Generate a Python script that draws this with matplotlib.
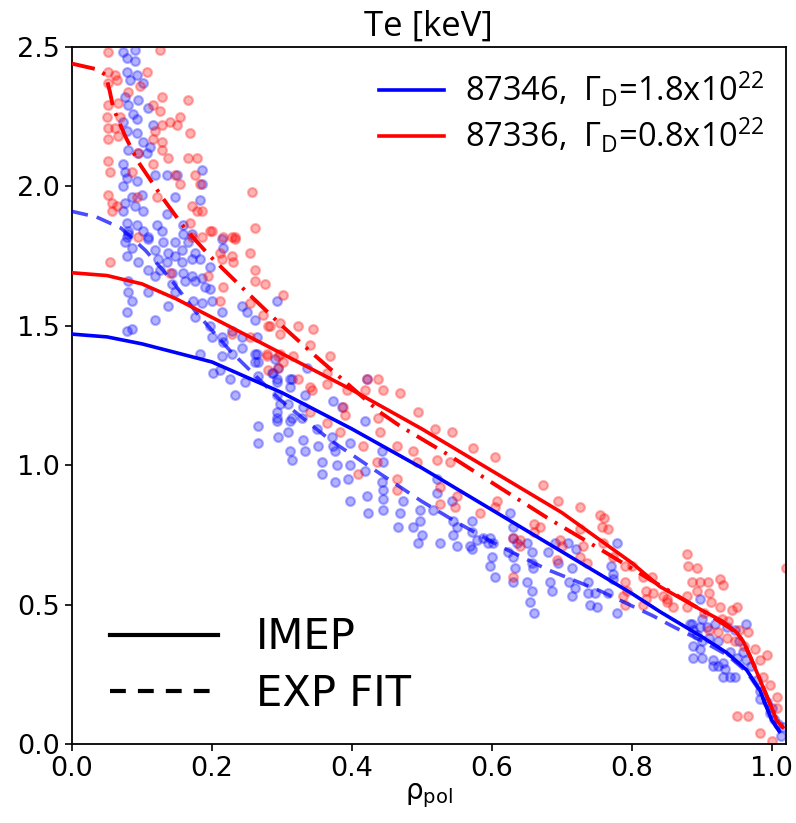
import numpy as np
import matplotlib
matplotlib.use("Agg")
import matplotlib.pyplot as plt
from matplotlib.lines import Line2D

plt.rcParams['mathtext.fontset'] = 'custom'
plt.rcParams['mathtext.rm'] = 'Open Sans'
plt.rcParams['mathtext.it'] = 'Open Sans:italic'

# ---- scatter measurements (rho_pol, Te keV) ----
blue_pts = [
    (0.073, 2.48), (0.090, 2.49), (0.079, 2.46), (0.090, 2.45), (0.079, 2.41), (0.093, 2.40), (0.083, 2.38),
    (0.101, 2.37), (0.076, 2.32), (0.094, 2.31), (0.080, 2.29), (0.109, 2.28), (0.087, 2.26), (0.093, 2.24),
    (0.116, 2.22), (0.073, 2.23), (0.079, 2.20), (0.093, 2.19), (0.101, 2.16), (0.111, 2.14), (0.080, 2.13),
    (0.094, 2.12), (0.107, 2.12), (0.073, 2.08), (0.076, 2.05), (0.079, 2.03), (0.093, 2.02), (0.119, 2.04),
    (0.136, 2.04), (0.150, 2.04), (0.186, 2.06), (0.186, 2.01), (0.073, 2.00), (0.086, 1.96), (0.100, 1.97),
    (0.147, 1.96), (0.076, 1.94), (0.090, 1.93), (0.073, 1.91), (0.101, 1.91), (0.136, 1.90), (0.183, 1.95),
    (0.079, 1.87), (0.093, 1.86), (0.121, 1.86), (0.159, 1.86), (0.080, 1.84), (0.101, 1.84), (0.129, 1.84),
    (0.159, 1.83), (0.171, 1.83), (0.079, 1.82), (0.109, 1.82),
    (0.080, 1.83), (0.076, 1.80), (0.086, 1.78), (0.079, 1.75), (0.094, 1.73), (0.109, 1.81), (0.119, 1.77),
    (0.130, 1.80), (0.137, 1.76), (0.147, 1.80), (0.157, 1.77), (0.166, 1.80), (0.176, 1.76), (0.123, 1.74),
    (0.136, 1.73), (0.147, 1.75), (0.157, 1.73), (0.171, 1.74), (0.183, 1.74), (0.214, 1.81), (0.216, 1.78),
    (0.109, 1.70), (0.119, 1.68), (0.126, 1.70), (0.143, 1.69), (0.159, 1.69), (0.171, 1.68), (0.186, 1.67),
    (0.197, 1.71), (0.080, 1.66), (0.080, 1.62), (0.086, 1.59), (0.109, 1.62), (0.143, 1.65), (0.147, 1.62),
    (0.161, 1.66), (0.176, 1.66), (0.190, 1.64), (0.197, 1.63), (0.200, 1.59), (0.079, 1.55), (0.119, 1.52),
    (0.137, 1.57), (0.173, 1.59), (0.186, 1.58), (0.214, 1.55), (0.176, 1.53), (0.086, 1.49), (0.079, 1.48),
    (0.197, 1.50), (0.200, 1.46), (0.214, 1.46), (0.216, 1.44), (0.229, 1.48), (0.243, 1.46), (0.250, 1.55),
    (0.261, 1.52), (0.243, 1.57), (0.293, 1.59), (0.183, 1.40), (0.214, 1.39), (0.229, 1.40), (0.243, 1.42),
    (0.261, 1.40), (0.266, 1.37), (0.201, 1.33), (0.211, 1.34), (0.226, 1.31), (0.247, 1.30), (0.233, 1.25),
    (0.266, 1.32), (0.286, 1.33), (0.293, 1.30), (0.293, 1.25), (0.297, 1.22), (0.293, 1.19), (0.309, 1.22),
    (0.293, 1.16), (0.266, 1.14), (0.314, 1.17), (0.314, 1.31),
    (0.264, 1.46), (0.264, 1.40), (0.261, 1.37), (0.290, 1.38), (0.294, 1.35), (0.287, 1.33), (0.293, 1.31),
    (0.311, 1.31), (0.311, 1.28), (0.333, 1.25), (0.336, 1.35), (0.293, 1.17), (0.266, 1.08), (0.294, 1.10),
    (0.309, 1.12), (0.311, 1.16), (0.329, 1.17), (0.330, 1.21), (0.330, 1.09), (0.350, 1.13), (0.351, 1.07),
    (0.333, 1.05), (0.311, 1.05), (0.314, 1.02), (0.357, 1.01), (0.357, 0.97), (0.371, 1.10), (0.373, 1.07),
    (0.376, 1.05), (0.373, 1.23), (0.386, 1.21), (0.397, 1.08), (0.421, 1.31), (0.419, 1.16), (0.379, 1.00),
    (0.397, 1.00), (0.376, 0.94), (0.394, 0.95), (0.397, 0.87), (0.421, 0.89), (0.419, 0.98), (0.443, 1.05),
    (0.444, 1.01), (0.443, 0.94), (0.444, 0.91), (0.423, 0.83), (0.444, 0.84), (0.473, 0.87), (0.469, 0.83),
    (0.444, 0.88), (0.466, 0.78), (0.487, 0.78), (0.500, 0.75), (0.494, 0.72), (0.497, 0.84), (0.497, 0.80),
    (0.516, 0.84), (0.521, 0.90), (0.521, 0.95), (0.543, 0.87), (0.544, 0.80), (0.550, 0.78), (0.544, 0.75),
    (0.526, 0.72), (0.571, 0.80), (0.571, 0.76), (0.579, 0.73), (0.571, 0.70), (0.587, 0.74), (0.594, 0.72),
    (0.600, 0.67), (0.550, 0.71), (0.569, 0.71),
    (0.597, 0.74), (0.601, 0.72), (0.597, 0.64), (0.604, 0.60), (0.626, 0.83), (0.630, 0.78), (0.630, 0.74),
    (0.636, 0.72), (0.623, 0.69), (0.630, 0.67), (0.633, 0.63), (0.630, 0.58), (0.650, 0.72), (0.657, 0.69),
    (0.657, 0.65), (0.659, 0.63), (0.651, 0.58), (0.657, 0.55), (0.654, 0.51), (0.661, 0.47), (0.686, 0.55),
    (0.683, 0.58), (0.690, 0.72), (0.680, 0.69), (0.694, 0.65), (0.709, 0.72), (0.721, 0.70), (0.714, 0.63),
    (0.711, 0.58), (0.719, 0.56), (0.714, 0.53), (0.737, 0.58), (0.737, 0.54), (0.747, 0.54), (0.740, 0.50),
    (0.750, 0.49), (0.771, 0.64), (0.773, 0.61), (0.773, 0.59), (0.779, 0.72), (0.766, 0.54), (0.779, 0.47),
    (0.883, 0.43), (0.887, 0.41),
    (0.897, 0.52), (0.886, 0.43), (0.901, 0.45), (0.907, 0.42), (0.919, 0.43), (0.936, 0.42), (0.947, 0.41),
    (0.964, 0.43), (0.893, 0.39), (0.901, 0.37), (0.911, 0.38), (0.923, 0.37), (0.887, 0.35), (0.897, 0.34),
    (0.887, 0.31), (0.901, 0.31), (0.916, 0.30), (0.916, 0.28), (0.923, 0.28), (0.930, 0.29), (0.933, 0.27),
    (0.940, 0.33), (0.950, 0.31), (0.959, 0.33), (0.964, 0.30), (0.971, 0.28), (0.930, 0.24), (0.940, 0.24),
    (0.947, 0.24), (0.979, 0.23), (0.983, 0.19), (0.983, 0.16), (0.993, 0.15), (1.001, 0.13), (0.997, 0.11),
    (1.004, 0.09), (1.009, 0.07), (1.016, 0.06), (1.014, 0.03), (0.954, 0.37), (0.897, 0.42),
]

red_pts = [
    (0.051, 2.48), (0.126, 2.49), (0.051, 2.41), (0.061, 2.40), (0.051, 2.37), (0.064, 2.38), (0.107, 2.41),
    (0.080, 2.34), (0.097, 2.36), (0.129, 2.32), (0.166, 2.31), (0.051, 2.29), (0.066, 2.30), (0.116, 2.29),
    (0.126, 2.27), (0.050, 2.25), (0.069, 2.25), (0.140, 2.23), (0.154, 2.25), (0.129, 2.22), (0.150, 2.22),
    (0.051, 2.21), (0.061, 2.21), (0.119, 2.20), (0.169, 2.19), (0.051, 2.17), (0.066, 2.18), (0.116, 2.17),
    (0.129, 2.16), (0.129, 2.13), (0.094, 2.12), (0.137, 2.10), (0.166, 2.10), (0.179, 2.10), (0.116, 2.08),
    (0.051, 2.09), (0.054, 2.05), (0.086, 2.05), (0.176, 2.04), (0.183, 2.01), (0.147, 2.04), (0.154, 2.01),
    (0.257, 1.98), (0.051, 1.97), (0.057, 1.94), (0.064, 1.93), (0.057, 1.91), (0.093, 1.96), (0.121, 1.96),
    (0.171, 1.93), (0.179, 1.91), (0.186, 1.91), (0.169, 1.87), (0.200, 1.84), (0.216, 1.82), (0.261, 1.85),
    (0.233, 1.82),
    (0.054, 1.73), (0.094, 1.82), (0.171, 1.82), (0.197, 1.84), (0.186, 1.82), (0.211, 1.76), (0.214, 1.74),
    (0.229, 1.82), (0.233, 1.81), (0.229, 1.75), (0.230, 1.73), (0.254, 1.76), (0.261, 1.70), (0.194, 1.68),
    (0.216, 1.64), (0.261, 1.66), (0.276, 1.65), (0.301, 1.61), (0.211, 1.59), (0.254, 1.58), (0.280, 1.50),
    (0.297, 1.47), (0.254, 1.46), (0.229, 1.47), (0.279, 1.39), (0.294, 1.39), (0.294, 1.35), (0.280, 1.34),
    (0.140, 1.69),
    (0.273, 1.54), (0.283, 1.50), (0.297, 1.51), (0.323, 1.50), (0.344, 1.49), (0.340, 1.43), (0.369, 1.39),
    (0.279, 1.40), (0.297, 1.40), (0.301, 1.37), (0.316, 1.39), (0.323, 1.31), (0.364, 1.33), (0.340, 1.28),
    (0.343, 1.27), (0.364, 1.29), (0.421, 1.31), (0.437, 1.31), (0.444, 1.27), (0.469, 1.26), (0.419, 1.27),
    (0.393, 1.27), (0.387, 1.21), (0.390, 1.18), (0.437, 1.17), (0.494, 1.19), (0.519, 1.13), (0.543, 1.12),
    (0.573, 1.06), (0.604, 1.03), (0.364, 1.15), (0.340, 1.19), (0.383, 1.12), (0.440, 1.12), (0.416, 1.07),
    (0.464, 1.07), (0.487, 1.05), (0.493, 1.01), (0.521, 1.02), (0.540, 1.01), (0.436, 1.01), (0.409, 0.97),
    (0.464, 0.95), (0.464, 0.91), (0.526, 0.92), (0.550, 0.89), (0.526, 0.86), (0.547, 0.85), (0.583, 0.83),
    (0.607, 0.87),
    (0.673, 0.93), (0.694, 0.87), (0.726, 0.85), (0.604, 0.85), (0.754, 0.82), (0.761, 0.81), (0.757, 0.78),
    (0.766, 0.77), (0.661, 0.79), (0.669, 0.78), (0.661, 0.76), (0.630, 0.74), (0.640, 0.73), (0.640, 0.71),
    (0.697, 0.73), (0.701, 0.71), (0.726, 0.77), (0.730, 0.71), (0.759, 0.72), (0.726, 0.67), (0.736, 0.65),
    (0.693, 0.66), (0.773, 0.67), (0.790, 0.64), (0.800, 0.64), (0.790, 0.58), (0.816, 0.60), (0.829, 0.60),
    (0.793, 0.55), (0.821, 0.55), (0.830, 0.54), (0.821, 0.52), (0.844, 0.53), (0.851, 0.51), (0.859, 0.49),
    (0.879, 0.68), (0.880, 0.64), (0.886, 0.58), (0.879, 0.53), (0.630, 0.60), (0.790, 0.50), (0.816, 0.50),
    (0.787, 0.53),
    (0.894, 0.63), (0.897, 0.58), (0.909, 0.58), (0.926, 0.59), (0.930, 0.57), (0.894, 0.55), (0.911, 0.54),
    (0.914, 0.51), (0.850, 0.52), (0.879, 0.49), (0.926, 0.49), (0.943, 0.48), (0.950, 0.49), (0.904, 0.47),
    (0.929, 0.45), (0.937, 0.44), (0.954, 0.41), (0.966, 0.40), (0.911, 0.41), (0.923, 0.40), (0.936, 0.38),
    (0.947, 0.37), (0.961, 0.35), (0.976, 0.34), (0.993, 0.32), (0.983, 0.30), (0.987, 0.24), (1.007, 0.17),
    (0.997, 0.21), (0.951, 0.10), (0.966, 0.10), (0.983, 0.04), (1.000, 0.01), (1.021, 0.63), (1.007, 0.13),
]

# ---- profiles ----
imep_346_rho = [0, 0.05, 0.1, 0.154, 0.2, 0.25, 0.3, 0.35, 0.4, 0.45, 0.5, 0.55, 0.6, 0.65, 0.7, 0.75,
                0.8, 0.84, 0.88, 0.9, 0.936, 0.964, 0.983, 1.0, 1.011]
imep_346_te = [1.47, 1.46, 1.435, 1.40, 1.37, 1.315, 1.26, 1.195, 1.13, 1.06, 0.99, 0.915, 0.84, 0.765,
               0.69, 0.615, 0.54, 0.475, 0.415, 0.385, 0.327, 0.266, 0.194, 0.086, 0.045]

fit_346_rho = [0, 0.035, 0.07, 0.105, 0.14, 0.18, 0.226, 0.297, 0.369, 0.44, 0.5, 0.55, 0.611, 0.68,
               0.754, 0.83, 0.86, 0.9, 0.936, 0.964, 0.983, 1.0, 1.011]
fit_346_te = [1.91, 1.89, 1.85, 1.77, 1.67, 1.54, 1.41, 1.235, 1.09, 0.97, 0.87, 0.795, 0.71, 0.625,
              0.55, 0.46, 0.42, 0.37, 0.32, 0.26, 0.19, 0.09, 0.045]

imep_336_rho = [0, 0.05, 0.1, 0.15, 0.2, 0.25, 0.3, 0.35, 0.4, 0.45, 0.5, 0.55, 0.6, 0.65, 0.7, 0.75,
                0.8, 0.84, 0.9, 0.93, 0.95, 0.96, 0.97, 0.98, 0.99, 1.0, 1.007, 1.016]
imep_336_te = [1.69, 1.68, 1.65, 1.595, 1.53, 1.465, 1.40, 1.335, 1.27, 1.20, 1.13, 1.055, 0.98, 0.905,
               0.83, 0.74, 0.65, 0.565, 0.48, 0.44, 0.40, 0.365, 0.31, 0.25, 0.19, 0.13, 0.085, 0.06]

fit_336_rho = [0, 0.035, 0.048, 0.054, 0.059, 0.076, 0.094, 0.129, 0.161, 0.197, 0.25, 0.3, 0.344, 0.39,
               0.44, 0.469, 0.536, 0.611, 0.68, 0.754, 0.826, 0.9, 0.95, 0.96, 0.97, 0.98, 0.99, 1.0,
               1.007, 1.016]
fit_336_te = [2.44, 2.42, 2.40, 2.34, 2.28, 2.18, 2.09, 1.96, 1.85, 1.75, 1.62, 1.50, 1.40, 1.30,
              1.19, 1.14, 1.04, 0.92, 0.81, 0.70, 0.59, 0.48, 0.40, 0.365, 0.31, 0.25, 0.19, 0.13,
              0.085, 0.06]

legend_labels = [r'87346,  $\Gamma_\mathrm{D}$=1.8x10$^{22}$', r'87336,  $\Gamma_\mathrm{D}$=0.8x10$^{22}$']

blue_pts = np.array(blue_pts)
red_pts = np.array(red_pts)

fig = plt.figure(figsize=(7.96, 8.23), dpi=100)
ax = fig.add_axes([0.0905, 0.096, 0.8965, 0.847])

ax.scatter(blue_pts[:, 0], blue_pts[:, 1], s=40, color='blue', alpha=0.3, linewidths=1.6, zorder=2)
ax.scatter(red_pts[:, 0], red_pts[:, 1], s=40, color='red', alpha=0.3, linewidths=1.6, zorder=2)

ax.plot(imep_346_rho, imep_346_te, color='blue', lw=2.6, zorder=4)
ax.plot(imep_336_rho, imep_336_te, color='red', lw=2.6, zorder=4)
ax.plot(fit_346_rho, fit_346_te, color='blue', alpha=0.7, lw=2.6, linestyle=(0, (4.5, 2.5)), zorder=3)
ax.plot(fit_336_rho, fit_336_te, color='red', lw=2.8, linestyle=(0, (6, 2.2, 0.8, 2.2)), zorder=3)

ax.set_xlim(0, 1.02)
ax.set_ylim(0, 2.5)
ax.set_xticks([0.0, 0.2, 0.4, 0.6, 0.8, 1.0])
ax.set_yticks([0.0, 0.5, 1.0, 1.5, 2.0, 2.5])
ax.tick_params(labelsize=19.5, length=5, width=1.2)
for sp in ax.spines.values():
    sp.set_linewidth(1.3)

ax.set_xlabel(r'ρ$_{\mathrm{pol}}$', fontsize=20, math_fontfamily='dejavusans', labelpad=0)
ax.set_title('Te [keV]', fontfamily='Open Sans', fontsize=25, pad=8)

h1 = [Line2D([], [], color='blue', lw=2.6), Line2D([], [], color='red', lw=2.6)]
leg1 = ax.legend(h1, legend_labels, loc='upper right', frameon=False,
                 prop={'family': 'Open Sans', 'size': 23.5}, handlelength=2.0,
                 handletextpad=0.65, labelspacing=0.22, borderaxespad=0.2,
                 bbox_to_anchor=(0.998, 0.995))
ax.add_artist(leg1)

h2 = [Line2D([], [], color='black', lw=3), Line2D([], [], color='black', lw=3, linestyle=(0, (3.8, 2.9)))]
ax.legend(h2, ['IMEP', 'EXP FIT'], loc='lower left', frameon=False,
          prop={'family': 'DejaVu Sans', 'size': 30}, handlelength=2.6,
          handletextpad=0.9, labelspacing=0.35, borderaxespad=0.0, bbox_to_anchor=(0.03, 0.018))

fig.savefig('out.png', dpi=100)
